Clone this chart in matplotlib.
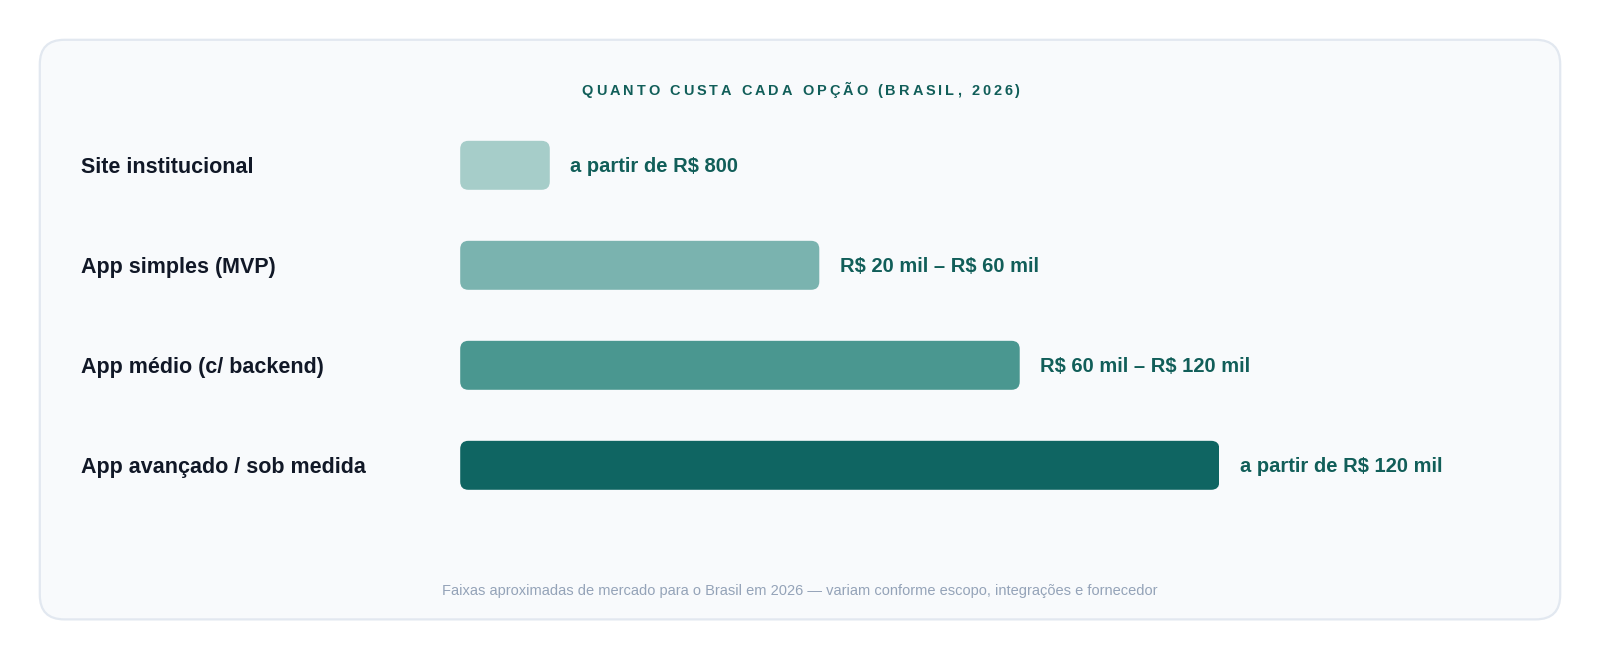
import matplotlib
matplotlib.use("Agg")
import matplotlib.pyplot as plt
from matplotlib.patches import FancyBboxPatch

plt.rcParams['font.family'] = ['Liberation Sans', 'DejaVu Sans']
plt.rcParams['text.parse_math'] = False   # "R$" labels are plain text

#-- data
categories = ["Site institucional", "App simples (MVP)", "App médio (c/ backend)", "App avançado / sob medida"]
bar_len = [11.8, 47.3, 73.7, 100]   # relative bar length (longest = 100)
value_labels = ["a partir de R$ 800", "R$ 20 mil – R$ 60 mil", "R$ 60 mil – R$ 120 mil", "a partir de R$ 120 mil"]
bar_colors = ["#a6cdc9", "#7ab3af", "#4a9790", "#0f6562"]
title = "QUANTO CUSTA CADA OPÇÃO (BRASIL, 2026)"
footnote = "Faixas aproximadas de mercado para o Brasil em 2026 — variam conforme escopo, integrações e fornecedor"

W, H = 1600, 660
k = 1600 / 1568          # layout measured on a 1568px-wide view
teal = "#115e59"
ink = "#111827"

def fx(p):
    return p * k / W

def fy(p):
    return (H - p * k) / H

fig = plt.figure(figsize=(W / 100, H / 100), dpi=100)
fig.patch.set_facecolor("white")

# card background (behind the axes)
card = FancyBboxPatch((fx(39), fy(607)), 1490 * k / W, 568 * k / H,
                      boxstyle="round,pad=0,rounding_size=%f" % (24 * k / W),
                      mutation_aspect=W / H,
                      transform=fig.transFigure, facecolor="#f8fafc",
                      edgecolor="#e2e8f0", linewidth=1.6, zorder=-1)
fig.patches.append(card)

# title with letter spacing, drawn char by char
renderer = fig.canvas.get_renderer()
tsize = 10.2 * k
spacing = 2.9 * k
widths = []
for ch in title:
    t = fig.text(0, 0, ch if ch != " " else "\u00a0", fontsize=tsize, fontweight="bold")
    widths.append(t.get_window_extent(renderer).width if ch != " " else 0.278 * tsize * 100 / 72)
    t.remove()
total = sum(widths) + spacing * (len(title) - 1)
x = 785 * k - total / 2
for ch, w in zip(title, widths):
    if ch != " ":
        fig.text(x / W, fy(89), ch, fontsize=tsize, fontweight="bold",
                 color=teal, ha="left", va="center")
    x += w + spacing

# bars axes: x from 451px, 100 units = 744px; rows 98px apart
ax = fig.add_axes([fx(451), fy(505), 744 * k / W, 392 * k / H])
ax.set_xlim(0, 100)
ax.set_ylim(3.5, -0.5)
ax.axis("off")

px_x = 7.44 * k
px_y = 98.0 * k
radius = 8 * k / px_x
aspect = (8 * k / px_y) / radius
bh = 48 / 98.0

for i, (cat, v, lab, col) in enumerate(zip(categories, bar_len, value_labels, bar_colors)):
    bar = FancyBboxPatch((0, i - bh / 2), v, bh,
                         boxstyle="round,pad=0,rounding_size=%f" % radius,
                         mutation_aspect=aspect, facecolor=col, edgecolor="none")
    ax.add_patch(bar)
    ax.annotate(lab, (v, i), xytext=(20 * k * 0.72, -1.2), textcoords="offset points",
                ha="left", va="center", fontsize=14.2 * k, fontweight="bold", color=teal)
    fig.text(fx(79), fy(164 + 98 * i), cat, ha="left", va="center",
             fontsize=15.2 * k, fontweight="bold", color=ink)

fig.text(fx(784), fy(579), footnote, ha="center", va="center",
         fontsize=10.3 * k, color="#94a3b8")

fig.savefig("out.png", dpi=100, facecolor="white")
